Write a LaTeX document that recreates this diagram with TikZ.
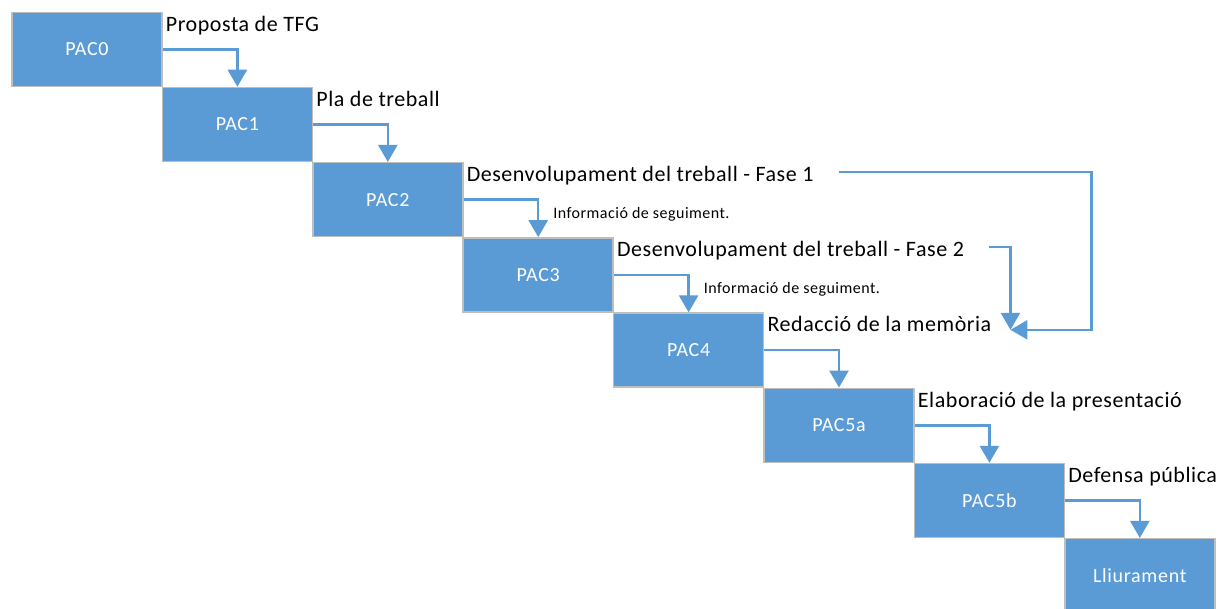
\documentclass[tikz,border=0pt]{standalone}
\usepackage{fontspec}
\setmainfont{Carlito}
\newfontfamily\phasefont[LetterSpace=2.5]{Carlito}
\newfontfamily\notefont[LetterSpace=3]{Carlito}
\newfontfamily\pacfont[LetterSpace=3.5]{Carlito}
\usetikzlibrary{arrows.meta,calc}
\definecolor{pacblue}{RGB}{91,155,213}
\definecolor{pacedge}{RGB}{190,190,190}
\begin{document}
\begin{tikzpicture}[x=1pt,y=-1pt,
  pacbox/.style={rectangle,fill=pacblue,draw=pacedge,line width=1.5pt,
    minimum width=150pt,minimum height=74pt,inner sep=0pt,
    text=white,font=\pacfont\fontsize{20}{24}\selectfont},
  phase/.style={anchor=base west,inner sep=0pt,text=black,
    font=\phasefont\fontsize{22}{26}\selectfont},
  note/.style={anchor=base west,inner sep=0pt,text=black,
    font=\notefont\fontsize{16}{19}\selectfont},
  flow/.style={draw=pacblue,line width=2.5pt,
    -{Triangle[width=19pt,length=17pt]}}]
\useasboundingbox (0,0) rectangle (1229,609);
\fill[white] (0,0) rectangle (1229,609);

% staircase of deliverables
\foreach \name/\txt [count=\i from 0] in
  {p0/PAC0,p1/PAC1,p2/PAC2,p3/PAC3,p4/PAC4,p5a/PAC5a,p5b/PAC5b,lliu/Lliurament}
  \node[pacbox] (\name) at ({87+150.4*\i},{49.3+75.2*\i}) {\txt};

% phase titles above each step
\foreach \bx/\txt/\lab in
  {p0/Proposta de TFG/l0,
   p1/Pla de treball/l1,
   p2/Desenvolupament del treball - Fase 1/l2,
   p3/Desenvolupament del treball - Fase 2/l3,
   p4/Redacció de la memòria/l4,
   p5a/Elaboració de la presentació/l5,
   p5b/Defensa pública/l6}
  \node[phase] (\lab) at ($(\bx.north east)+(3,19.5)$) {\txt};

% follow-up notes
\node[note] (n2) at ($(p3.north)+(15,-19)$) {Informació de seguiment.};
\node[note] (n3) at ($(p4.north)+(15,-19)$) {Informació de seguiment.};

% step-to-step connectors
\draw[flow] (p0.east) -| (p1.north);
\draw[flow] (p1.east) -| (p2.north);
\draw[flow] (p2.east) -| (p3.north);
\draw[flow] (p3.east) -| (p4.north);
\draw[flow] (p4.east) -| (p5a.north);
\draw[flow] (p5a.east) -| (p5b.north);
\draw[flow] (p5b.east) -| (lliu.north);

% both development phases lead into the report writing
\coordinate (merge) at ($(l4.base east)+(19,-2)$);
\coordinate (f1out) at ($(l2.base east)+(25,-9.5)$);
\coordinate (f2out) at ($(l3.base east)+(25,-9.5)$);
\draw[flow] (f1out) -| ($(merge)+(81,0)$) -- (merge);
\draw[flow] (f2out) -| (merge);
\end{tikzpicture}
\end{document}
